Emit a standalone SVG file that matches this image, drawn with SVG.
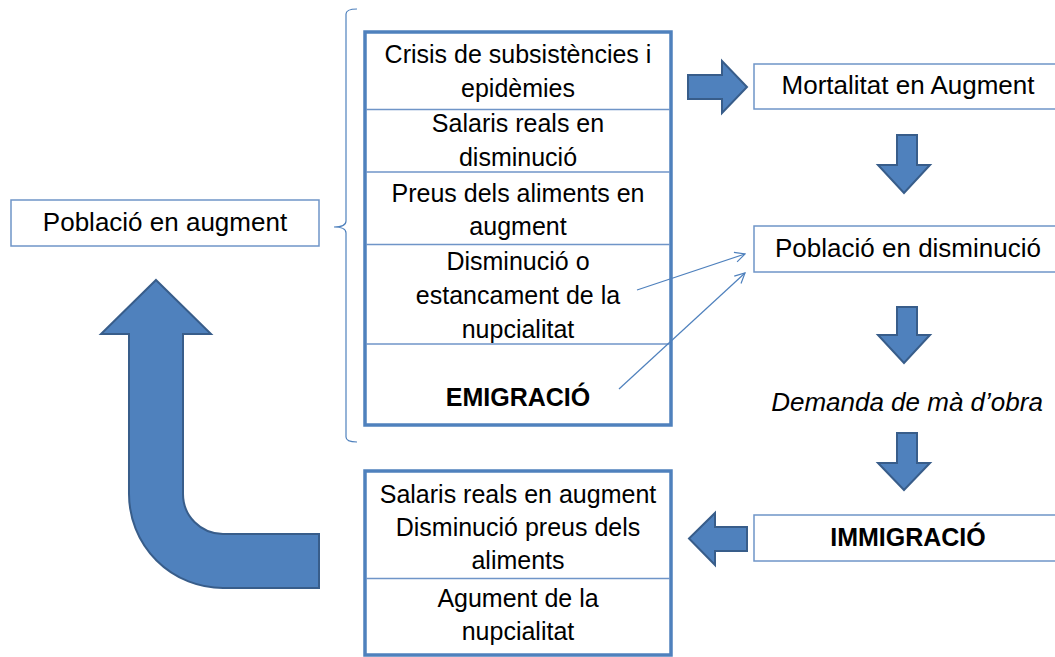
<svg xmlns="http://www.w3.org/2000/svg" width="1055" height="657" viewBox="0 0 1055 657">
<defs>
<style>
.t{font-family:"Liberation Sans",Arial,sans-serif;font-size:25px;fill:#000;text-anchor:middle}
.s{font-size:26px}
.b{font-weight:bold}
.i{font-style:italic}
.box{fill:#fff;stroke:#6F95C8;stroke-width:1.5}
.main{fill:#fff;stroke:#4F81BD;stroke-width:3.5}
.div{stroke:#6F95C8;stroke-width:1.5;fill:none}
.blk{fill:#4F81BD;stroke:#385D8A;stroke-width:2;stroke-linejoin:miter}
.thin{stroke:#4F81BD;stroke-width:1.2;fill:none}
</style>
<marker id="open" viewBox="0 0 12 12" refX="11" refY="6" markerWidth="12" markerHeight="12" markerUnits="userSpaceOnUse" orient="auto">
<path d="M1,1 L11,6 L1,11" fill="none" stroke="#4F81BD" stroke-width="1.2"/>
</marker>
</defs>
<rect width="1055" height="657" fill="#fff"/>

<g id="node-poblacio-augment">
<rect class="box" x="11" y="200" width="308" height="46"/>
<text class="t s" x="165" y="231">Població en augment</text>
</g>

<g id="node-brace">
<path class="thin" d="M357,9 Q346,9 346,14 L346,221 Q346,227 334,227 Q346,227 346,233 L346,437 Q346,442 357,442"/>
</g>

<g id="node-causes">
<rect class="main" x="365" y="32" width="306" height="393"/>
<line class="div" x1="366" y1="109.5" x2="670" y2="109.5"/>
<line class="div" x1="366" y1="172" x2="670" y2="172"/>
<line class="div" x1="366" y1="244.5" x2="670" y2="244.5"/>
<line class="div" x1="366" y1="344" x2="670" y2="344"/>
<text class="t" x="518" y="63">Crisis de subsistències i</text>
<text class="t" x="518" y="97">epidèmies</text>
<text class="t" x="518" y="132">Salaris reals en</text>
<text class="t" x="518" y="166">disminució</text>
<text class="t" x="518" y="202">Preus dels aliments en</text>
<text class="t" x="518" y="235">augment</text>
<text class="t" x="518" y="270">Disminució o</text>
<text class="t" x="518" y="304">estancament de la</text>
<text class="t" x="518" y="338">nupcialitat</text>
<text class="t b" x="518" y="406">EMIGRACIÓ</text>
</g>

<g id="node-mortalitat">
<rect class="box" x="754" y="64" width="308" height="45"/>
<text class="t s" x="908" y="94">Mortalitat en Augment</text>
</g>

<g id="node-poblacio-disminucio">
<rect class="box" x="754" y="226" width="308" height="46"/>
<text class="t s" x="908" y="257">Població en disminució</text>
</g>

<g id="node-demanda">
<text class="t s i" x="907" y="411">Demanda de mà d’obra</text>
</g>

<g id="node-immigracio">
<rect class="box" x="754" y="515" width="308" height="46"/>
<text class="t b" x="908" y="546">IMMIGRACIÓ</text>
</g>

<g id="node-effects">
<rect class="main" x="365" y="471" width="306" height="184"/>
<line class="div" x1="366" y1="578.5" x2="670" y2="578.5"/>
<text class="t" x="518" y="503">Salaris reals en augment</text>
<text class="t" x="518" y="536">Disminució preus dels</text>
<text class="t" x="518" y="569">aliments</text>
<text class="t" x="518" y="607">Agument de la</text>
<text class="t" x="518" y="640">nupcialitat</text>
</g>

<g id="connectors">
<path class="blk" d="M688,75 L722,75 L722,61 L747,87 L722,113 L722,99 L688,99 Z"/>
<path class="blk" d="M897,135 L917,135 L917,165 L930,165 L904,193 L878,165 L897,165 Z"/>
<path class="blk" d="M897,307 L917,307 L917,335 L930,335 L904,363 L878,335 L897,335 Z"/>
<path class="blk" d="M897,433 L917,433 L917,463 L930,463 L904,490 L878,463 L897,463 Z"/>
<path class="blk" d="M747,527 L715,527 L715,513 L689,538.5 L715,565 L715,551 L747,551 Z"/>
<path class="blk" d="M156,280 L211,334 L183,334 L183,494 A40,40 0 0 0 223,534 L319,534 L319,588 L223,588 A94,94 0 0 1 129,494 L129,334 L101,334 Z"/>
<line class="thin" x1="637" y1="290" x2="745" y2="254" marker-end="url(#open)"/>
<line class="thin" x1="619" y1="389" x2="745" y2="273" marker-end="url(#open)"/>
</g>
</svg>
